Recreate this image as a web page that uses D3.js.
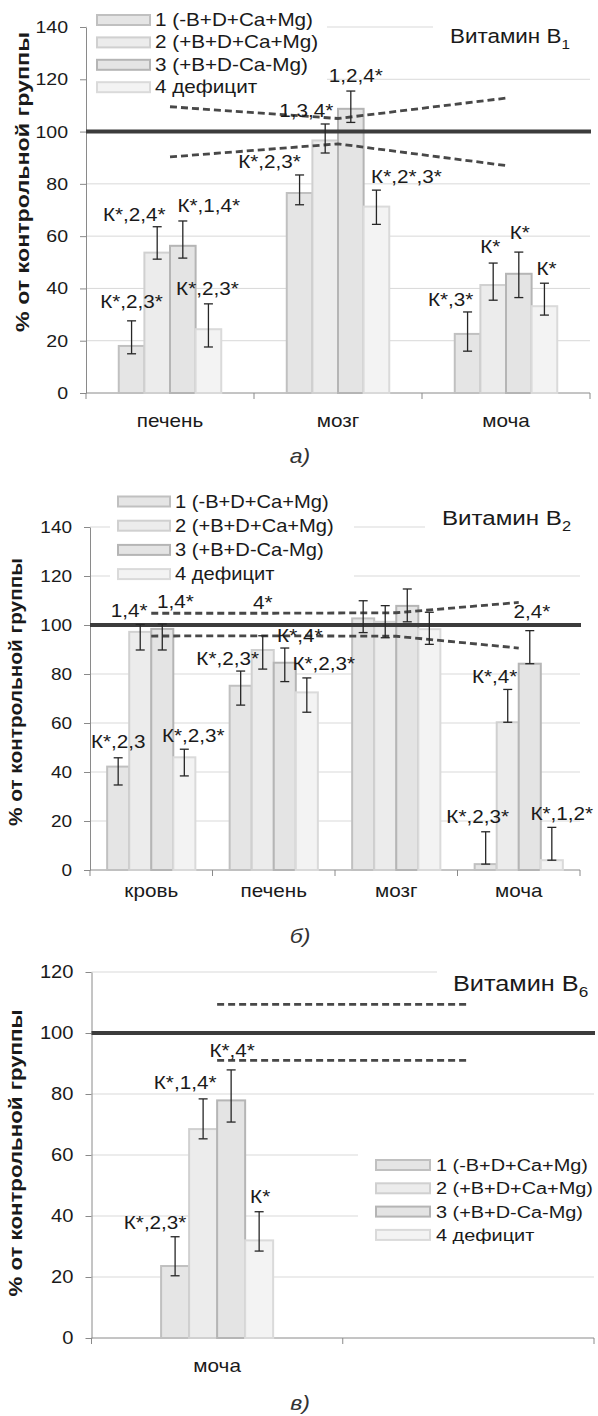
<!DOCTYPE html>
<html>
<head>
<meta charset="utf-8">
<script src="https://cdn.jsdelivr.net/npm/d3@7"></script>
<style>
  body { margin: 0; background: #fff; }
</style>
</head>
<body>
<svg id="chart" width="598" height="1416"></svg>
<script>
// ---- data ----
const seriesNames = ["1 (-B+D+Ca+Mg)", "2 (+B+D+Ca+Mg)", "3 (+B+D-Ca-Mg)", "4 дефицит"];
const yTitle = "% от контрольной группы";

// panel а) vitamin B1
const catsA = ["печень", "мозг", "моча"];
const ticksA = [0, 20, 40, 60, 80, 100, 120, 140];
const meanA = [[18, 76.5, 22.6], [53.7, 96.6, 41.3], [56.3, 108.7, 45.6], [24.4, 71.3, 33.2]];
const lowA  = [[15, 72, 16], [51.2, 91.8, 35.5], [51.6, 103.5, 36.5], [17.6, 64.5, 29.8]];
const highA = [[27.6, 83.4, 31], [63.6, 102.9, 49.7], [65.8, 115.5, 53.9], [34.1, 77.6, 42]];
const ctrlHiA = [109.5, 105, 112.8];
const ctrlLoA = [90.3, 95.3, 87];
const notesA = [["К*,2,3*", "К*,2,3*", "К*,3*"], ["К*,2,4*", "1,3,4*", "К*"],
                ["К*,1,4*", "1,2,4*", "К*"], ["К*,2,3*", "К*,2*,3*", "К*"]];

// panel б) vitamin B2
const catsB = ["кровь", "печень", "мозг", "моча"];
const ticksB = [0, 20, 40, 60, 80, 100, 120, 140];
const meanB = [[42.2, 75.2, 102.7, 2.4], [97.2, 89.8, 101.3, 60.3], [98.4, 84.6, 107.8, 84.2], [46, 72.5, 98.3, 4]];
const lowB  = [[34.7, 67.3, 96.9, 2.4], [89.8, 82, 94.8, 60.3], [89.8, 76.9, 101.3, 84.2], [38.4, 64.4, 92.1, 4]];
const highB = [[45.8, 81.2, 109.9, 15.6], [100.2, 95.6, 107.9, 73.7], [100.4, 90.6, 114.7, 97.7], [49.3, 78.4, 105.2, 17.4]];
const ctrlHiB = [104.8, 104.8, 105, 109.2];
const ctrlLoB = [95.5, 95.6, 95.4, 90.6];
const notesB = [["К*,2,3", "К*,2,3*", "", "К*,2,3*"], ["1,4*", "4*", "", "К*,4*"],
                ["1,4*", "К*,4*", "", "2,4*"], ["К*,2,3*", "К*,2,3*", "", "К*,1,2*"]];

// panel в) vitamin B6
const catsC = ["моча", ""];
const ticksC = [0, 20, 40, 60, 80, 100, 120];
const meanC = [[23.6, null], [68.5, null], [77.9, null], [32, null]];
const lowC  = [[20.4, null], [65.3, null], [70.8, null], [28.5, null]];
const highC = [[33.2, null], [78.4, null], [87.9, null], [41.4, null]];
const ctrlHiC = [109.4, 109.4];
const ctrlLoC = [91, 91];
const notesC = [["К*,2,3*", ""], ["К*,1,4*", ""], ["К*,4*", ""], ["К*", ""]];

// ---- style ----
const FONT = "'Liberation Sans', Arial, sans-serif";
const SX = 1.15;
const STYLE = [
  { fill: "#e5e5e5", stroke: "#c0c0c0" },
  { fill: "#ececec", stroke: "#d0d0d0" },
  { fill: "#e4e4e4", stroke: "#b5b5b5" },
  { fill: "#f3f3f3", stroke: "#dadada" }
];
const svg = d3.select("#chart");

function place(sel, x, y) {
  sel.attr("transform", `translate(${x},${y}) scale(${SX},1)`);
}

function drawPanel(D, L) {
  const g = svg.append("g").attr("font-family", FONT);
  const n = D.cats.length;
  const x = d3.scaleBand().domain(d3.range(n)).range([L.x0, L.x1]);
  const y = d3.scaleLinear().domain([0, d3.max(D.ticks)]).range([L.yZero, L.yTop]);
  const bw = x.bandwidth();
  const inner = d3.scaleBand().domain(d3.range(4)).range([0, bw * L.frac]);
  const off = bw * (1 - L.frac) / 2;
  const barX = (ci, si) => x(ci) + off + inner(si);
  const barMid = (ci, si) => barX(ci, si) + inner.bandwidth() / 2;

  // gridlines
  g.append("g").selectAll("line").data(D.ticks.slice(1)).join("line")
    .attr("x1", L.x0).attr("x2", L.x1)
    .attr("y1", d => y(d)).attr("y2", d => y(d))
    .attr("stroke", "#d9d9d9");

  // white boxes behind legend and title
  [L.legBox, L.titleBox].forEach(b => {
    g.append("rect").attr("x", b[0]).attr("y", b[1]).attr("width", b[2]).attr("height", b[3]).attr("fill", "#fff");
  });

  // y axis
  const ya = g.append("g").attr("transform", `translate(${L.x0},0)`)
    .call(d3.axisLeft(y).tickValues(D.ticks).tickSize(6).tickSizeOuter(0).tickPadding(12));
  ya.attr("font-family", FONT).attr("font-size", L.fs.tick);
  ya.select(".domain").attr("stroke", "#8a8a8a");
  ya.selectAll(".tick line").attr("stroke", "#8a8a8a");
  ya.selectAll(".tick text").attr("fill", "#1a1a1a").attr("x", 0)
    .attr("transform", `translate(-18,0) scale(${SX},1)`);

  // x axis
  const edges = x.domain().map(i => x(i)).concat([x.range()[1]]);
  g.append("line").attr("x1", L.x0).attr("x2", L.x1).attr("y1", y(0)).attr("y2", y(0)).attr("stroke", "#8a8a8a");
  g.append("g").selectAll("line").data(edges).join("line")
    .attr("x1", d => d).attr("x2", d => d).attr("y1", y(0)).attr("y2", y(0) + 6)
    .attr("stroke", "#8a8a8a");
  D.cats.forEach((c, i) => {
    g.append("text").call(place, x(i) + bw / 2, y(0) + L.catDy)
      .attr("text-anchor", "middle").attr("font-size", L.fs.cat).attr("fill", "#1a1a1a").text(c);
  });

  // bars
  D.mean.forEach((ser, si) => {
    g.append("g").selectAll("rect")
      .data(ser.map((v, ci) => ({ v, ci })).filter(d => d.v != null)).join("rect")
      .attr("x", d => barX(d.ci, si)).attr("width", inner.bandwidth())
      .attr("y", d => y(d.v)).attr("height", d => y(0) - y(d.v))
      .attr("fill", STYLE[si].fill).attr("stroke", STYLE[si].stroke).attr("stroke-width", 2);
  });

  // control level and its range
  g.append("line").attr("x1", L.x0).attr("x2", L.x1 + 1)
    .attr("y1", y(100)).attr("y2", y(100))
    .attr("stroke", "#3c3c3c").attr("stroke-width", 4);
  const line = d3.line().x((d, i) => x(i) + bw / 2).y(d => y(d));
  [D.ctrlHi, D.ctrlLo].forEach(arr => {
    g.append("path").attr("d", line(arr)).attr("fill", "none")
      .attr("stroke", "#484848").attr("stroke-width", 2.8).attr("stroke-dasharray", "7,4");
  });

  // error bars
  D.mean.forEach((ser, si) => {
    ser.forEach((v, ci) => {
      if (v == null) return;
      const cx = barMid(ci, si), y1 = y(D.low[si][ci]), y2 = y(D.high[si][ci]);
      const eg = g.append("g").attr("stroke", "#262626").attr("stroke-width", 1.3);
      eg.append("line").attr("x1", cx).attr("x2", cx).attr("y1", y1).attr("y2", y2);
      [y1, y2].forEach(yy => eg.append("line").attr("x1", cx - 4.5).attr("x2", cx + 4.5).attr("y1", yy).attr("y2", yy));
    });
  });

  // significance notes
  D.notes.forEach((row, si) => row.forEach((t, ci) => {
    if (!t) return;
    g.append("text").call(place, barMid(ci, si) + L.noteDx[si][ci], y(L.noteY[si][ci]))
      .attr("text-anchor", "middle").attr("font-size", L.fs.note).attr("fill", "#1a1a1a").text(t);
  }));

  // legend
  seriesNames.forEach((name, si) => {
    const cy = L.leg.y + si * L.leg.dy;
    g.append("rect").attr("x", L.leg.x).attr("y", cy - 5).attr("width", L.leg.w).attr("height", 10)
      .attr("fill", STYLE[si].fill).attr("stroke", STYLE[si].stroke).attr("stroke-width", 2);
    g.append("text").call(place, L.leg.x + L.leg.w + L.leg.gap, cy + 6)
      .attr("font-size", L.fs.leg).attr("fill", "#1a1a1a").text(name);
  });

  // title
  const t = g.append("text").call(place, L.title[0], L.title[1])
    .attr("font-size", L.fs.title).attr("fill", "#1a1a1a");
  t.append("tspan").text("Витамин B");
  t.append("tspan").attr("font-size", L.fs.title * 0.68).attr("dy", 6).text(D.sub);

  // y axis title
  g.append("text").attr("transform", `translate(${L.yT[0]},${L.yT[1]}) rotate(-90)`)
    .attr("text-anchor", "middle").attr("font-weight", "bold").attr("font-size", 18.5)
    .attr("textLength", L.yT[2]).attr("lengthAdjust", "spacingAndGlyphs")
    .attr("fill", "#1a1a1a").text(yTitle);

  // panel tag
  g.append("text").call(place, 300, L.tagY)
    .attr("text-anchor", "middle").attr("font-style", "italic").attr("font-size", 20)
    .attr("fill", "#333").text(D.tag);
}

drawPanel(
  { cats: catsA, ticks: ticksA, mean: meanA, low: lowA, high: highA, ctrlHi: ctrlHiA, ctrlLo: ctrlLoA, notes: notesA, sub: "1", tag: "а)" },
  { x0: 86, x1: 590, yZero: 393, yTop: 27, frac: 0.61, catDy: 34,
    fs: { tick: 17, cat: 18, leg: 18, note: 18, title: 19.5 },
    legBox: [87, 6, 240, 91], titleBox: [433, 16, 159, 36],
    leg: { x: 97, y: 20, dy: 22.4, w: 53, gap: 5 },
    title: [450, 43], yT: [29, 182, 300], tagY: 463,
    noteY: [[32.5, 86, 33.3], [65.8, 105.5, 53.5], [69.2, 119, 58.9], [37.5, 80.3, 45.1]],
    noteDx: [[0, -30, -17], [-23, -19, -3], [26, 5, 1], [-1, 30, 2]] }
);

drawPanel(
  { cats: catsB, ticks: ticksB, mean: meanB, low: lowB, high: highB, ctrlHi: ctrlHiB, ctrlLo: ctrlLoB, notes: notesB, sub: "2", tag: "б)" },
  { x0: 90, x1: 580, yZero: 870, yTop: 527, frac: 0.72, catDy: 27,
    fs: { tick: 16.5, cat: 18, leg: 17.5, note: 18, title: 21 },
    legBox: [110, 488, 244, 100], titleBox: [425, 505, 156, 36],
    leg: { x: 118, y: 501.5, dy: 24.2, w: 52, gap: 5 },
    title: [442, 525], yT: [22, 692, 268], tagY: 943,
    noteY: [[49.7, 83.7, 0, 19], [103.4, 106.4, 0, 76.5], [106.8, 93.2, 0, 102.7], [52.4, 81.6, 0, 20.4]],
    noteDx: [[0, -13, 0, -8], [-11, 0, 0, -13], [13, 15, 0, 2], [9, 17, 0, 10]] }
);

drawPanel(
  { cats: catsC, ticks: ticksC, mean: meanC, low: lowC, high: highC, ctrlHi: ctrlHiC, ctrlLo: ctrlLoC, notes: notesC, sub: "6", tag: "в)" },
  { x0: 91.5, x1: 594, yZero: 1338, yTop: 972, frac: 0.446, catDy: 34,
    fs: { tick: 17.5, cat: 18, leg: 17.3, note: 18, title: 22 },
    legBox: [358, 1148, 240, 99], titleBox: [437, 962, 159, 36],
    leg: { x: 376, y: 1165, dy: 23.3, w: 54, gap: 6 },
    title: [453, 991], yT: [22, 1153, 287], tagY: 1410,
    noteY: [[35.6, 0], [81.5, 0], [92.2, 0], [44.2, 0]],
    noteDx: [[-20, 0], [-18, 0], [1, 0], [1, 0]] }
);
</script>
</body>
</html>
